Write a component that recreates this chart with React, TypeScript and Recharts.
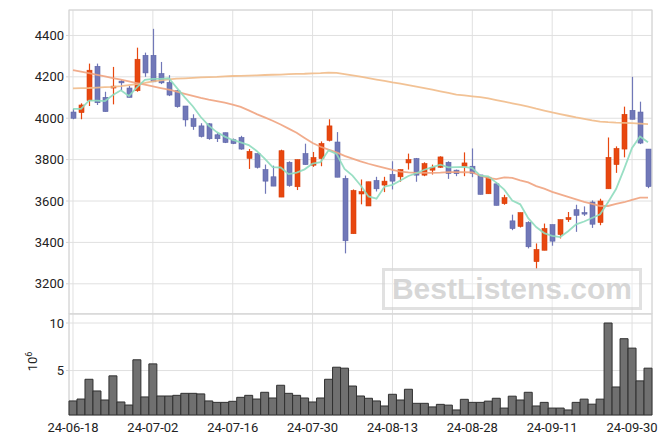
import React from "react";
import * as R from "recharts";
import { ComposedChart, Bar, Line, XAxis, YAxis, CartesianGrid } from "recharts";

const dates = [
  "24-06-18", "24-06-19", "24-06-20", "24-06-21", "24-06-24", "24-06-25", "24-06-26", "24-06-27", "24-06-28",
  "24-07-01", "24-07-02", "24-07-03", "24-07-04", "24-07-05", "24-07-08", "24-07-09", "24-07-10", "24-07-11",
  "24-07-12", "24-07-15", "24-07-16", "24-07-17", "24-07-18", "24-07-19", "24-07-22", "24-07-23", "24-07-24",
  "24-07-25", "24-07-26", "24-07-29", "24-07-30", "24-07-31",
  "24-08-01", "24-08-02", "24-08-05", "24-08-06", "24-08-07", "24-08-08", "24-08-09", "24-08-12", "24-08-13",
  "24-08-14", "24-08-16", "24-08-19", "24-08-20", "24-08-21", "24-08-22", "24-08-23", "24-08-26", "24-08-27",
  "24-08-28", "24-08-29", "24-08-30",
  "24-09-02", "24-09-03", "24-09-04", "24-09-05", "24-09-06", "24-09-09", "24-09-10", "24-09-11", "24-09-12",
  "24-09-13", "24-09-19", "24-09-20", "24-09-23", "24-09-24", "24-09-25", "24-09-26", "24-09-27", "24-09-30",
  "24-10-02", "24-10-04",
];

const opens = [
  4030, 4027, 4085, 4251, 4101, 4146, 4179, 4146, 4133, 4304, 4304, 4216, 4173, 4133, 4059, 3998, 3963, 3973,
  3920, 3930, 3896, 3907, 3806, 3829, 3752, 3717, 3619, 3787, 3669, 3829, 3773, 3805, 3893, 3885, 3709, 3442,
  3634, 3576, 3699, 3677, 3728, 3717, 3784, 3805, 3725, 3749, 3763, 3787, 3749, 3768, 3768, 3726, 3635, 3683,
  3587, 3504, 3477, 3496, 3307, 3362, 3486, 3438, 3510, 3558, 3544, 3595, 3496, 3659, 3776, 3851, 4038, 4030,
  3851,
];
const highs = [
  4045, 4072, 4264, 4264, 4128, 4248, 4184, 4157, 4341, 4317, 4432, 4272, 4208, 4136, 4059, 4019, 3976, 3976,
  3928, 3930, 3902, 3915, 3851, 3829, 3776, 3771, 3848, 3792, 3800, 3877, 3837, 3888, 3995, 3933, 3723, 3656,
  3704, 3693, 3717, 3717, 3792, 3752, 3829, 3808, 3787, 3776, 3816, 3792, 3752, 3835, 3854, 3726, 3715, 3691,
  3630, 3534, 3544, 3502, 3395, 3491, 3486, 3510, 3547, 3582, 3574, 3603, 3611, 3907, 3864, 4056, 4200, 4080,
  3851,
];
const lows = [
  3995, 3995, 4059, 4064, 4032, 4067, 4136, 4101, 4128, 4200, 4176, 4165, 4107, 4051, 3960, 3944, 3907, 3896,
  3885, 3880, 3875, 3848, 3755, 3757, 3635, 3672, 3619, 3669, 3653, 3776, 3765, 3768, 3888, 3715, 3347, 3442,
  3584, 3576, 3646, 3643, 3656, 3693, 3752, 3693, 3720, 3728, 3760, 3707, 3720, 3720, 3715, 3632, 3635, 3579,
  3582, 3459, 3472, 3371, 3272, 3362, 3384, 3419, 3499, 3451, 3528, 3470, 3483, 3659, 3736, 3811, 3995, 3875,
  3662,
];
const closes = [
  4000, 4064, 4232, 4075, 4032, 4155, 4171, 4101, 4285, 4219, 4176, 4171, 4112, 4056, 3992, 3960, 3912, 3901,
  3901, 3883, 3878, 3851, 3840, 3763, 3696, 3672, 3843, 3675, 3800, 3776, 3810, 3878, 3963, 3715, 3408, 3651,
  3645, 3693, 3659, 3696, 3696, 3752, 3800, 3725, 3781, 3762, 3813, 3733, 3732, 3784, 3734, 3632, 3715, 3579,
  3616, 3467, 3544, 3379, 3366, 3467, 3406, 3510, 3520, 3531, 3539, 3488, 3600, 3811, 3854, 4019, 3995, 3880,
  3670,
];

const ma5 = [
  4045, 4045, 4085, 4085, 4083, 4112, 4135, 4107, 4149, 4186, 4190, 4190, 4193, 4147, 4101, 4058, 4006, 3964,
  3933, 3911, 3895, 3883, 3870, 3842, 3805, 3764, 3762, 3730, 3737, 3753, 3781, 3788, 3845, 3828, 3755, 3723,
  3676, 3622, 3611, 3669, 3678, 3699, 3721, 3734, 3751, 3764, 3776, 3763, 3764, 3765, 3759, 3723, 3719, 3689,
  3655, 3602, 3584, 3517, 3474, 3445, 3432, 3426, 3454, 3487, 3501, 3518, 3536, 3594, 3658, 3754, 3856, 3912,
  3884,
];
const ma20 = [
  4232, 4225, 4218, 4210, 4202, 4194, 4186, 4178, 4170, 4162, 4154, 4146, 4138, 4128, 4118, 4108, 4098, 4090,
  4083, 4075, 4066, 4055, 4038, 4020, 4004, 3988, 3970, 3950, 3930, 3905, 3880, 3862, 3848, 3835, 3818, 3805,
  3792, 3780, 3770, 3760, 3750, 3742, 3738, 3736, 3736, 3736, 3737, 3740, 3740, 3739, 3738, 3722, 3712, 3706,
  3714, 3712, 3700, 3690, 3672, 3660, 3644, 3632, 3620, 3608, 3596, 3586, 3576, 3576, 3586, 3594, 3606, 3616,
  3616,
];
const ma60 = [
  4144, 4145, 4146, 4148, 4150, 4152, 4155, 4160, 4165, 4171, 4178, 4183, 4188, 4191, 4193, 4195, 4197, 4199,
  4200, 4202, 4204, 4205, 4206, 4207, 4209, 4210, 4211, 4213, 4214, 4215, 4217, 4218, 4220, 4219, 4213, 4207,
  4201, 4194, 4187, 4180, 4173, 4167, 4160, 4153, 4146, 4138, 4130, 4122, 4114, 4110, 4106, 4102, 4096, 4088,
  4080, 4072, 4064, 4056, 4046, 4037, 4028, 4020, 4012, 4004, 3997, 3990, 3984, 3981, 3979, 3978, 3976, 3974,
  3972,
];

// volume, in millions
const volumes = [
  1.8, 2.0, 4.08, 2.85, 1.9, 4.44, 1.69, 1.37, 6.13, 2.22, 5.7, 2.32, 2.32, 2.39, 2.6, 2.6, 2.54, 1.8, 1.65,
  1.65, 1.76, 2.18, 2.39, 2.0, 2.71, 2.11, 3.45, 2.6, 2.39, 2.11, 1.69, 2.11, 4.08, 5.35, 5.25, 3.37, 2.32,
  2.08, 1.8, 1.27, 2.5, 1.9, 3.03, 1.55, 1.55, 1.17, 1.44, 1.36, 0.85, 1.97, 1.65, 1.65, 1.78, 2.08, 1.05,
  2.3, 1.9, 2.71, 1.27, 1.65, 1.05, 1.05, 0.85, 1.65, 1.99, 1.46, 1.99, 10.0, 3.27, 8.35, 7.36, 3.91, 5.25,
];

const priceTicks = [3200, 3400, 3600, 3800, 4000, 4200, 4400];
const volumeTicks = [5, 10];

const UP = "#e8470f";
const UP_EDGE = "#d63f0a";
const DOWN = "#7178b8";
const DOWN_EDGE = "#5d64a8";
const GRID = "#e0e0e0";
const FRAME = "#d4d4d4";
const tickStyle = { fontSize: 13, fontFamily: "Roboto", fill: "#222" };

const rows = dates.map((date, i) => ({
  date,
  open: opens[i],
  high: highs[i],
  low: lows[i],
  close: closes[i],
  range: [lows[i], highs[i]],
  ma5: ma5[i],
  ma20: ma20[i],
  ma60: ma60[i],
  vol: volumes[i],
}));

const usePlotAreaSafe: () => any = (R as any).usePlotArea ?? (() => undefined);

function Frame() {
  const area = usePlotAreaSafe();
  if (!area) return null;
  return (
    <rect
      x={area.x}
      y={area.y}
      width={area.width}
      height={area.height}
      fill="none"
      stroke={FRAME}
      strokeWidth={1}
    />
  );
}

function Candle(props: any) {
  const { x, y, width, height, payload } = props;
  if (x == null || y == null || !payload) return null;
  const { open, close, high, low } = payload;
  const top = Math.min(y, y + height);
  const h = Math.abs(height);
  const k = high > low ? h / (high - low) : 0;
  const yOf = (v: number) => top + (high - v) * k;
  const up = close >= open;
  const cx = Math.round(x + width / 2) + 0.5;
  const bodyTop = yOf(Math.max(open, close));
  const bodyBot = yOf(Math.min(open, close));
  const bw = 5;
  return (
    <g>
      <line x1={cx} x2={cx} y1={top} y2={top + h} stroke={up ? UP : DOWN} strokeWidth={1.2} />
      <rect
        x={cx - bw / 2}
        y={bodyTop}
        width={bw}
        height={Math.max(bodyBot - bodyTop, 1.5)}
        fill={up ? UP : DOWN}
        stroke={up ? UP_EDGE : DOWN_EDGE}
        strokeWidth={0.6}
      />
    </g>
  );
}

function VolumeUnit(props: any) {
  const vb = props.viewBox || {};
  const cx = (vb.x ?? 0) + 37;
  const cy = (vb.y ?? 0) + (vb.height ?? 0) / 2 - 3;
  return (
    <text
      x={cx}
      y={cy}
      transform={`rotate(-90 ${cx} ${cy})`}
      textAnchor="middle"
      fontSize={13}
      fontFamily="Roboto"
      fill="#222"
    >
      10
      <tspan dy={-5} fontSize={9}>
        6
      </tspan>
    </text>
  );
}

export default function App() {
  return (
    <div style={{ position: "relative", width: 670, height: 444, background: "#fff" }}>
      <style>{`body{margin:0}`}</style>
      <div style={{ position: "absolute", left: 0, top: 0 }}>
        <ComposedChart
          width={670}
          height={314}
          data={rows}
          margin={{ top: 10, right: 18, left: 0, bottom: 0 }}
          barCategoryGap={0}
        >
          <CartesianGrid stroke={GRID} />
          <XAxis dataKey="date" type="category" interval={9} hide />
          <YAxis
            type="number"
            domain={[3054, 4523]}
            ticks={priceTicks}
            interval={0}
            width={69}
            tick={tickStyle}
            tickSize={3}
            tickMargin={2}
            tickLine={{ stroke: FRAME }}
            axisLine={false}
          />
          <Bar dataKey="range" shape={<Candle />} isAnimationActive={false} />
          <Line
            dataKey="ma60"
            stroke="#f1bb8a"
            strokeWidth={1.8}
            strokeOpacity={0.9}
            dot={false}
            activeDot={false}
            isAnimationActive={false}
          />
          <Line
            dataKey="ma20"
            stroke="#f0a380"
            strokeWidth={1.8}
            strokeOpacity={0.9}
            dot={false}
            activeDot={false}
            isAnimationActive={false}
          />
          <Line
            dataKey="ma5"
            stroke="#8edbbe"
            strokeWidth={1.8}
            strokeOpacity={0.9}
            dot={false}
            activeDot={false}
            isAnimationActive={false}
          />
          <Frame />
        </ComposedChart>
      </div>
      <div style={{ position: "absolute", left: 0, top: 304 }}>
        <ComposedChart
          width={670}
          height={140}
          data={rows}
          margin={{ top: 10, right: 18, left: 0, bottom: 0 }}
          barCategoryGap={0}
        >
          <CartesianGrid stroke={GRID} />
          <XAxis
            dataKey="date"
            type="category"
            interval={9}
            height={29}
            tick={tickStyle}
            tickLine={false}
            axisLine={false}
          />
          <YAxis
            type="number"
            domain={[0.32, 10.95]}
            ticks={volumeTicks}
            interval={0}
            width={69}
            tick={tickStyle}
            tickSize={3}
            tickMargin={2}
            tickLine={{ stroke: FRAME }}
            axisLine={false}
            label={{ content: <VolumeUnit /> }}
          />
          <Bar dataKey="vol" fill="#707070" stroke="#303030" strokeWidth={1} isAnimationActive={false} />
          <Frame />
        </ComposedChart>
      </div>
      <div
        style={{
          position: "absolute",
          left: 382,
          top: 268,
          width: 254,
          height: 36,
          border: "3px solid rgba(200,200,200,0.55)",
          background: "rgba(255,255,255,0.35)",
          color: "rgba(205,205,205,0.8)",
          fontFamily: "'Liberation Sans', Arial, sans-serif",
          fontWeight: 700,
          fontSize: 30,
          lineHeight: "36px",
          textAlign: "center",
          pointerEvents: "none",
        }}
      >
        BestListens.com
      </div>
    </div>
  );
}
